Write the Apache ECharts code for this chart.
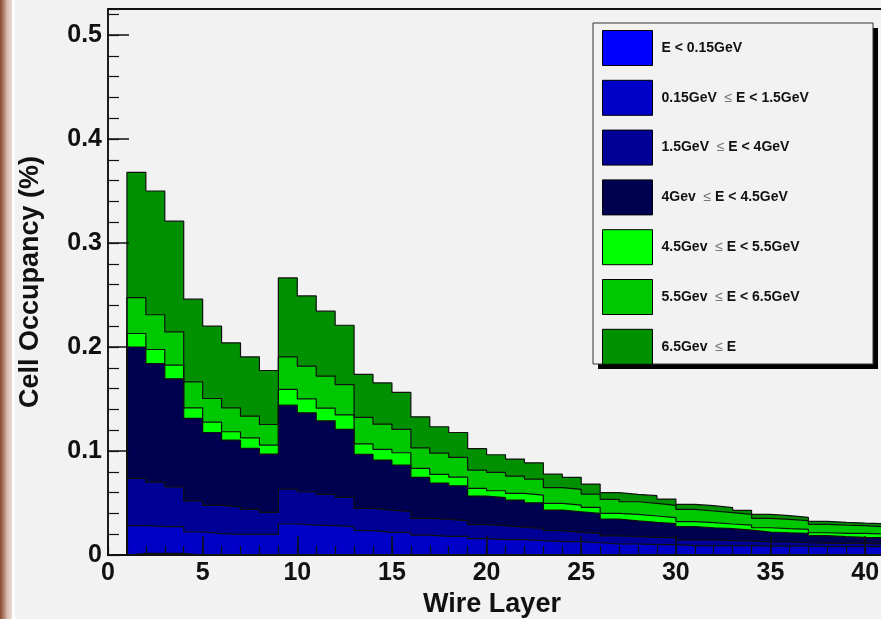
<!DOCTYPE html>
<html>
<head>
<meta charset="utf-8">
<script src="https://cdn.jsdelivr.net/npm/echarts@6/dist/echarts.min.js"></script>
<style>
html,body{margin:0;padding:0;background:#f2f2f2;}
#chart{width:881px;height:619px;}
</style>
</head>
<body>
<div id="chart"></div>
<script>
// Wire layer bins (each bin spans [layer, layer+1])
const wireLayers = [1,2,3,4,5,6,7,8,9,10,11,12,13,14,15,16,17,18,19,20,21,22,23,24,25,26,27,28,29,30,31,32,33,34,35,36,37,38,39,40];

// Cell occupancy (%) per energy band, per wire layer (stack order bottom -> top)
const eLt015  = [0.0015,0.0015,0.0015,0,0,0,0,0,0,0,0,0,0,0,0,0,0,0,0,0,0,0,0,0,0,0,0,0,0,0,0,0,0,0,0,0,0,0,0,0];
const e015to15 = [0.0268,0.0257,0.0257,0.0221,0.0205,0.0199,0.0199,0.0199,0.0298,0.0288,0.0282,0.0272,0.0234,0.0218,0.0218,0.0192,0.0180,0.0180,0.0157,0.0147,0.0147,0.0138,0.0128,0.0128,0.0118,0.0106,0.0106,0.0100,0.0100,0.0090,0.0090,0.0090,0.0090,0.0085,0.0085,0.0085,0.0080,0.0080,0.0080,0.0080];
const e15to4  = [0.0454,0.0428,0.0384,0.0299,0.0272,0.0262,0.0240,0.0211,0.0336,0.0320,0.0301,0.0282,0.0214,0.0214,0.0198,0.0160,0.0163,0.0150,0.0135,0.0135,0.0119,0.0118,0.0106,0.0090,0.0090,0.0077,0.0070,0.0070,0.0067,0.0054,0.0054,0.0048,0.0045,0.0040,0.0040,0.0033,0.0032,0.0032,0.0032,0.0026];
const e4to45  = [0.1263,0.1140,0.1038,0.0793,0.0701,0.0644,0.0586,0.0560,0.0807,0.0759,0.0707,0.0653,0.0519,0.0481,0.0449,0.0394,0.0349,0.0335,0.0275,0.0269,0.0262,0.0246,0.0198,0.0198,0.0192,0.0163,0.0153,0.0144,0.0134,0.0128,0.0118,0.0115,0.0105,0.0096,0.0089,0.0090,0.0074,0.0064,0.0058,0.0061];
const e45to55 = [0.0130,0.0136,0.0131,0.0102,0.0100,0.0080,0.0102,0.0087,0.0151,0.0135,0.0122,0.0141,0.0102,0.0102,0.0118,0.0087,0.0084,0.0084,0.0073,0.0067,0.0064,0.0074,0.0064,0.0064,0.0058,0.0054,0.0062,0.0061,0.0058,0.0048,0.0049,0.0045,0.0048,0.0041,0.0039,0.0039,0.0028,0.0032,0.0038,0.0035];
const e55to65 = [0.0345,0.0334,0.0320,0.0250,0.0227,0.0230,0.0208,0.0198,0.0313,0.0314,0.0308,0.0291,0.0254,0.0243,0.0224,0.0198,0.0204,0.0189,0.0177,0.0176,0.0167,0.0154,0.0151,0.0151,0.0128,0.0135,0.0121,0.0121,0.0118,0.0119,0.0112,0.0109,0.0103,0.0090,0.0090,0.0083,0.0081,0.0080,0.0074,0.0070];
const eGt65   = [0.1205,0.1190,0.1065,0.0795,0.0695,0.0625,0.0570,0.0519,0.0759,0.0675,0.0624,0.0570,0.0413,0.0397,0.0356,0.0298,0.0253,0.0240,0.0205,0.0170,0.0163,0.0156,0.0130,0.0115,0.0096,0.0064,0.0070,0.0074,0.0061,0.0048,0.0051,0.0048,0.0038,0.0039,0.0035,0.0032,0.0029,0.0026,0.0025,0.0029];

const bandNames = [
  'E < 0.15GeV',
  '0.15GeV  ≤ E < 1.5GeV',
  '1.5GeV  ≤ E < 4GeV',
  '4Gev  ≤ E < 4.5GeV',
  '4.5Gev  ≤ E < 5.5GeV',
  '5.5Gev  ≤ E < 6.5GeV',
  '6.5Gev  ≤ E'
];
const bandValues = [eLt015, e015to15, e15to4, e4to45, e45to55, e55to65, eGt65];
const bandColors = ['#0000ff', '#0000c8', '#000096', '#000050', '#00ff00', '#00c800', '#009000'];

// cumulative (stacked) histograms, drawn as step outlines filled to zero
const cumulative = [];
let running = wireLayers.map(() => 0);
bandValues.forEach(vals => {
  running = running.map((r, i) => r + vals[i]);
  cumulative.push(running.slice());
});

function histPoints(cum) {
  const last = wireLayers[wireLayers.length - 1] + 1;
  const pts = [[wireLayers[0], 0]];
  wireLayers.forEach((w, i) => pts.push([w, cum[i]]));
  pts.push([last, cum[cum.length - 1]]);
  pts.push([last, 0]);
  return pts;
}

const series = [];
for (let k = bandNames.length - 1; k >= 0; k--) {
  series.push({
    name: bandNames[k],
    type: 'line',
    step: 'end',
    symbol: 'none',
    xAxisIndex: 0,
    yAxisIndex: 0,
    data: histPoints(cumulative[k]),
    itemStyle: { color: bandColors[k] },
    lineStyle: { color: '#111', width: 1.2 },
    areaStyle: { color: bandColors[k], opacity: 1, origin: 'start' },
    emphasis: { disabled: true },
    silent: true
  });
}

const chart = echarts.init(document.getElementById('chart'), null, { renderer: 'canvas' });
const FONT = 'Liberation Sans, Arial, sans-serif';
const tickFont = { fontFamily: FONT, fontWeight: 'bold', fontSize: 25, color: '#111' };

chart.setOption({
  animation: false,
  backgroundColor: '#f2f2f2',
  textStyle: { fontFamily: FONT },
  grid: {
    left: 108, top: 9, right: -22, bottom: 64,
    outerBoundsMode: 'none',
    containLabel: false,
    show: true, borderColor: '#111', borderWidth: 2, backgroundColor: 'transparent'
  },
  graphic: [
    { type: 'rect', z: 1, shape: { x: 0, y: 0, width: 12, height: 619 },
      style: { fill: new echarts.graphic.LinearGradient(0, 0, 1, 0, [
        { offset: 0, color: '#8a4a30' }, { offset: 0.3, color: '#b07a68' }, { offset: 0.6, color: '#d9bdb3' }, { offset: 1, color: '#e9dbd7' }]) } },
    { type: 'rect', z: 1, shape: { x: 12, y: 0, width: 3, height: 619 }, style: { fill: '#ffffff' } },
    { type: 'rect', z: 2, shape: { x: 598, y: 28, width: 280, height: 341 }, style: { fill: '#000' } },
    { type: 'rect', z: 3, shape: { x: 593, y: 23, width: 280, height: 341 },
      style: { fill: '#f2f2f2', stroke: '#333', lineWidth: 1 } }
  ],
  legend: {
    z: 20,
    orient: 'vertical',
    left: 602, top: 30,
    padding: 0,
    itemWidth: 50, itemHeight: 35, itemGap: 13.8,
    icon: 'rect',
    selectedMode: false,
    data: bandNames.map((n, k) => ({
      name: n,
      icon: 'rect',
      itemStyle: { color: bandColors[k], borderColor: '#000', borderWidth: 1 }
    })),
    formatter: name => name.replace('≤', '{le|≤}'),
    textStyle: {
      fontFamily: FONT,
      fontWeight: 'bold', fontSize: 14, color: '#111',
      padding: [0, 0, 0, 4],
      rich: { le: { fontFamily: FONT, fontWeight: 'normal', fontSize: 14, color: '#777' } }
    }
  },
  xAxis: [
    {
      type: 'value', min: 0, max: 42, interval: 5, position: 'bottom', z: 5,
      name: 'Wire Layer', nameLocation: 'middle', nameGap: 33,
      nameTextStyle: { fontFamily: FONT, fontWeight: 'bold', fontSize: 27, color: '#111', padding: [0, 27, 0, 0] },
      axisLine: { show: true, onZero: false, lineStyle: { color: '#111', width: 2 } },
      axisTick: { show: true, inside: true, length: 19, lineStyle: { color: '#111', width: 1.5 } },
      axisLabel: Object.assign({ margin: 6, showMaxLabel: false }, tickFont),
      splitLine: { show: false }
    },
    {
      type: 'value', min: 0, max: 42, interval: 1, position: 'bottom', offset: 0, z: 5,
      axisLine: { show: false },
      axisTick: { show: true, inside: true, length: 9, lineStyle: { color: '#111', width: 1.2 } },
      axisLabel: { show: false },
      splitLine: { show: false }
    }
  ],
  yAxis: [
    {
      type: 'value', min: 0, max: 0.525, interval: 0.1, position: 'left', z: 5,
      name: 'Cell Occupancy (%)', nameLocation: 'middle', nameGap: 64, nameRotate: 90,
      nameTextStyle: { fontFamily: FONT, fontWeight: 'bold', fontSize: 27, color: '#111' },
      axisLine: { show: true, onZero: false, lineStyle: { color: '#222', width: 1.5 } },
      axisTick: { show: true, inside: true, length: 21, lineStyle: { color: '#111', width: 1.5 } },
      axisLabel: Object.assign({ margin: 6, showMaxLabel: false,
        formatter: v => String(Math.round(v * 10) / 10) }, tickFont),
      splitLine: { show: false }
    },
    {
      type: 'value', min: 0, max: 0.525, interval: 0.02, position: 'left', offset: 0, z: 5,
      axisLine: { show: false },
      axisTick: { show: true, inside: true, length: 11, lineStyle: { color: '#111', width: 1.2 } },
      axisLabel: { show: false },
      splitLine: { show: false }
    }
  ],
  series: series
});
</script>
</body>
</html>
